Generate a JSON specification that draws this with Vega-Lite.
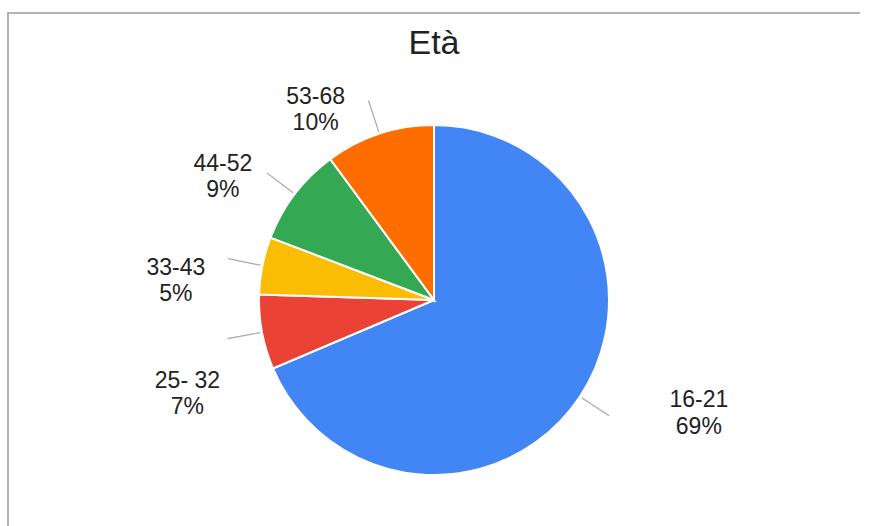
{
  "$schema": "https://vega.github.io/schema/vega-lite/v6.json",
  "width": 852,
  "height": 574,
  "autosize": {"type": "none"},
  "padding": {"left": 8, "top": 13, "right": 0, "bottom": 0},
  "background": "#ffffff",
  "view": {"stroke": "#b4b4b4", "strokeWidth": 2, "strokeDash": [852, 1426, 574]},
  "title": {
    "text": "Età",
    "font": "Liberation Sans",
    "fontSize": 34,
    "fontWeight": "normal",
    "color": "#222222",
    "anchor": "middle",
    "frame": "group",
    "baseline": "alphabetic",
    "offset": 0,
    "dy": 75
  },
  "data": {
    "values": [
      {"eta": "16-21", "valore": 68.6},
      {"eta": "25- 32", "valore": 6.9},
      {"eta": "33-43", "valore": 5.3},
      {"eta": "44-52", "valore": 9.1},
      {"eta": "53-68", "valore": 10.1}
    ]
  },
  "transform": [
    {"window": [{"op": "sum", "field": "valore", "as": "cum"}], "sort": [{"field": "eta", "order": "ascending"}], "frame": [null, 0]},
    {"joinaggregate": [{"op": "sum", "field": "valore", "as": "total"}]},
    {"calculate": "datum.cum - datum.valore / 2", "as": "mid"},
    {"calculate": "[datum.eta, format(datum.valore / datum.total, '.0%')]", "as": "label"}
  ],
  "layer": [
    {
      "mark": {"type": "arc", "outerRadius": 175, "stroke": "#ffffff", "strokeWidth": 2},
      "encoding": {
        "theta": {"field": "valore", "type": "quantitative", "stack": true},
        "order": {"field": "cum", "type": "quantitative"},
        "color": {
          "field": "eta",
          "type": "nominal",
          "scale": {
            "domain": ["16-21", "25- 32", "33-43", "44-52", "53-68"],
            "range": ["#4285F4", "#EA4335", "#FBBC04", "#34A853", "#FF6D01"]
          },
          "legend": null
        }
      }
    },
    {
      "mark": {"type": "arc", "stroke": "#a8a8a8", "strokeWidth": 1.2, "fill": null},
      "encoding": {
        "theta": {"field": "mid", "type": "quantitative", "stack": false},
        "theta2": {"field": "mid"},
        "radius": {"value": 210},
        "radius2": {"value": 177}
      }
    },
    {
      "transform": [{"filter": {"field": "eta", "equal": "16-21"}}],
      "mark": {"type": "text", "radius": 200, "dx": 98, "dy": -21, "align": "center", "baseline": "top", "fontSize": 23, "lineHeight": 26.5, "font": "Liberation Sans", "fill": "#222222"},
      "encoding": {"theta": {"field": "mid", "type": "quantitative", "stack": false}, "text": {"field": "label"}}
    },
    {
      "transform": [{"filter": {"field": "eta", "equal": "25- 32"}}],
      "mark": {"type": "text", "radius": 200, "dx": -50, "dy": 33, "align": "center", "baseline": "top", "fontSize": 23, "lineHeight": 26.5, "font": "Liberation Sans", "fill": "#222222"},
      "encoding": {"theta": {"field": "mid", "type": "quantitative", "stack": false}, "text": {"field": "label"}}
    },
    {
      "transform": [{"filter": {"field": "eta", "equal": "33-43"}}],
      "mark": {"type": "text", "radius": 200, "dx": -62, "dy": -4, "align": "center", "baseline": "top", "fontSize": 23, "lineHeight": 26.5, "font": "Liberation Sans", "fill": "#222222"},
      "encoding": {"theta": {"field": "mid", "type": "quantitative", "stack": false}, "text": {"field": "label"}}
    },
    {
      "transform": [{"filter": {"field": "eta", "equal": "44-52"}}],
      "mark": {"type": "text", "radius": 200, "dx": -52, "dy": -26, "align": "center", "baseline": "top", "fontSize": 23, "lineHeight": 26.5, "font": "Liberation Sans", "fill": "#222222"},
      "encoding": {"theta": {"field": "mid", "type": "quantitative", "stack": false}, "text": {"field": "label"}}
    },
    {
      "transform": [{"filter": {"field": "eta", "equal": "53-68"}}],
      "mark": {"type": "text", "radius": 200, "dx": -56, "dy": -24, "align": "center", "baseline": "top", "fontSize": 23, "lineHeight": 26.5, "font": "Liberation Sans", "fill": "#222222"},
      "encoding": {"theta": {"field": "mid", "type": "quantitative", "stack": false}, "text": {"field": "label"}}
    }
  ]
}
